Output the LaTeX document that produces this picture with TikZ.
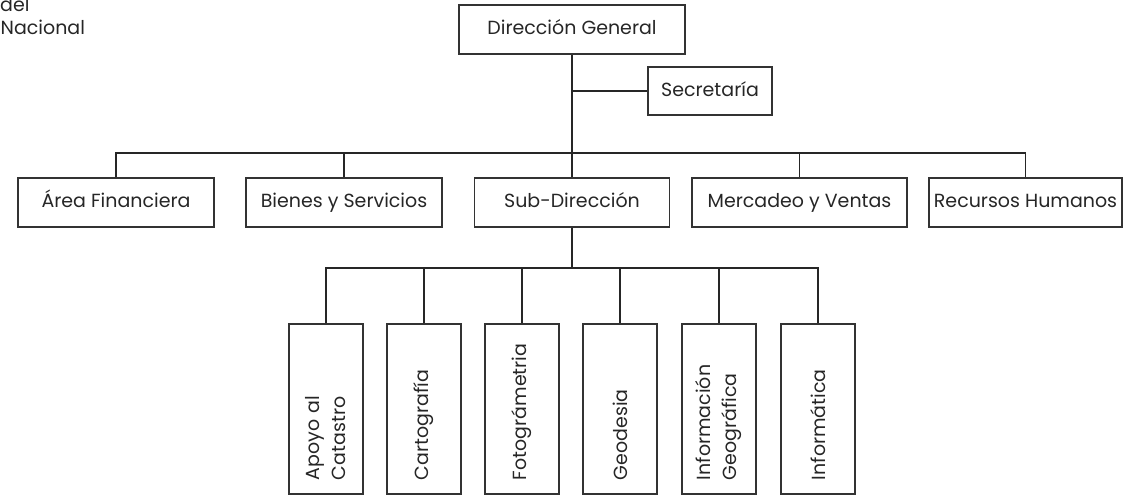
\documentclass[tikz,border=0pt]{standalone}
\usepackage{fontspec}
\setmainfont{Poppins}
\begin{document}
\begin{tikzpicture}[x=1pt,y=-1pt,
  txt/.style={font=\fontsize{19}{26}\selectfont, text=black!85},
  box/.style={txt, draw=black!80, line width=1.1pt, inner sep=0pt, align=center,
    text height=14pt, text depth=4pt},
  vbox/.style={txt, draw=black!80, line width=1.1pt, rotate=90, minimum width=170pt, minimum height=74pt,
    text width=142pt, inner xsep=14pt, inner ysep=0pt, align=left, font=\fontsize{19}{26}\selectfont},
  conn/.style={draw=black!85, line width=1.1pt}]
\clip (0,0) rectangle (1126,495);
% top-left text
\node[txt, anchor=base west, inner sep=0pt] (t1) at (0,12) {del};
\node[txt, anchor=base west, inner sep=0pt] (t2) at (0.5,35) {Nacional};
% level 1
\node[box, minimum width=226pt, minimum height=49pt] (dg) at (572,29.5) {Dirección General};
\node[box, minimum width=124pt, minimum height=48pt] (sec) at (710,91) {Secretaría};
% level 2
\node[box, minimum width=196pt, minimum height=49pt] (af) at (116,202.5) {Área Financiera};
\node[box, minimum width=196pt, minimum height=49pt] (bs) at (344,202.5) {Bienes y Servicios};
\node[box, minimum width=195pt, minimum height=49pt] (sub) at (572,202.5) {Sub-Dirección};
\node[box, minimum width=215pt, minimum height=49pt] (mv) at (799.5,202.5) {Mercadeo y Ventas};
\node[box, minimum width=193pt, minimum height=49pt] (rh) at (1025.5,202.5) {Recursos Humanos};
% level 3
\node[vbox] (v1) at (326,409) {Apoyo al\\Catastro};
\node[vbox] (v2) at (424,409) {Cartografía};
\node[vbox] (v3) at (522,409) {Fotográmetria};
\node[vbox] (v4) at (620,409) {Geodesia};
\node[vbox] (v5) at (719,409) {Información\\Geográfica};
\node[vbox] (v6) at (818,409) {Informática};
% connectors
\coordinate (bus1) at (572,153);
\coordinate (bus2) at (572,268);
\draw[conn] (dg.south) -- (dg.south |- sub.north);
\draw[conn] (dg.south |- sec.west) -- (sec.west);
\draw[conn] (af.north) |- (bus1) -| (rh.north);
\draw[conn] (bs.north) -- (bs.north |- bus1);
\draw[conn] (mv.north) -- (mv.north |- bus1);
\draw[conn] (sub.south) -- (bus2);
\draw[conn] (v1.east) |- (bus2) -| (v6.east);
\draw[conn] (v2.east) -- (v2.east |- bus2);
\draw[conn] (v3.east) -- (v3.east |- bus2);
\draw[conn] (v4.east) -- (v4.east |- bus2);
\draw[conn] (v5.east) -- (v5.east |- bus2);
\end{tikzpicture}
\end{document}
